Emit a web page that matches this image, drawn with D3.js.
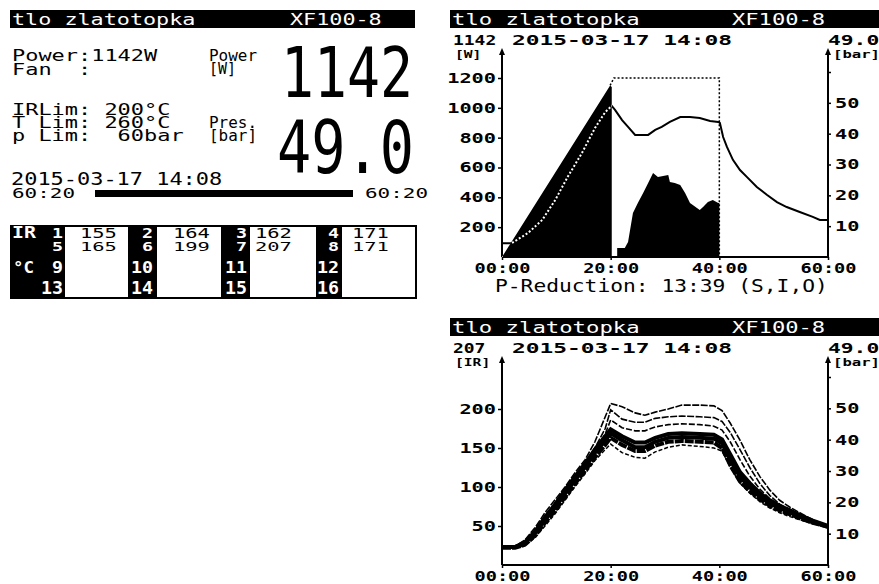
<!DOCTYPE html>
<html>
<head>
<meta charset="utf-8">
<script src="https://cdn.jsdelivr.net/npm/d3@7"></script>
<style>
  body { margin: 0; background: #fff; }
  svg { display: block; }
  text { font-family: "DejaVu Sans Mono", monospace; white-space: pre; }
</style>
</head>
<body>
<div id="chart"></div>
<script>
// Device / status values
const deviceName = "tlo zlatotopka";
const deviceModel = "XF100-8";
const timestamp = "2015-03-17 14:08";
const powerNow = 1142;
const pressureNow = 49.0;
const irMaxNow = 207;
const fanText = "Fan  :";
const limitTexts = ["IRLim: 200°C", "T Lim: 260°C", "p Lim:  60bar"];
const elapsedSec = 3620;
const totalSec = 3620;
const reductionText = "P-Reduction: 13:39 (S,I,O)";

// IR sensor table
const irChannels = ["1", "2", "3", "4", "5", "6", "7", "8", "9", "10", "11", "12", "13", "14", "15", "16"];
const irValues = [155, 164, 162, 171, 165, 199, 207, 171, null, null, null, null, null, null, null, null];

// Tick values
const timeTicks = [0, 20, 40, 60];
const powerTicks = [200, 400, 600, 800, 1000, 1200];
const barTicks = [10, 20, 30, 40, 50, 60];
const irTicks = [50, 100, 150, 200];

// Power chart series (minutes, W / bar)
const powerTime = [0, 19.9, 20.2, 20.2, 21.2, 21.2, 22.6, 23.2, 24.1, 25.0, 26.0, 26.9, 27.8, 28.7, 30.6, 30.9, 31.8, 32.8, 33.7, 34.6, 36.4, 37.0, 37.9, 38.8, 39.8, 40, 40];
const powerWatt = [0, 1150, 1140, 0, 0, 60, 60, 100, 295, 362, 430, 496, 563, 536, 550, 503, 496, 483, 429, 362, 315, 335, 369, 382, 362, 362, 0];
const limitTime = [19.9, 20.6, 40, 40];
const limitWatt = [1150, 1200, 1200, 0];
const pressTime = [0, 0, 1.8, 4.8, 7.4, 9.8, 12.1, 14.7, 17.1, 19.0, 20.2, 20.8, 22.1, 23.2, 24.5, 26.9, 28.2, 29.4, 30.9, 32.8, 34.6, 36.4, 38.3, 39.8, 40.1, 40.7, 41.4, 42.5, 43.8, 45.1, 46.9, 48.8, 50.6, 52.4, 54.8, 57.2, 58.5, 60];
const pressBar = [0, 4.5, 4.5, 7.8, 12.0, 18.5, 26.0, 33.7, 41.8, 47.0, 49.0, 47.7, 44.4, 42.2, 39.6, 39.6, 41.2, 42.2, 43.8, 45.4, 45.4, 45.1, 44.1, 43.8, 43.5, 38.9, 35.7, 31.5, 28.2, 25.9, 22.7, 20.1, 17.8, 16.2, 14.6, 13.0, 12.0, 12.0];

// IR chart series (minutes, °C)
const irTime = [0, 2.4, 4.2, 6.1, 7.9, 9.8, 11.6, 13.4, 15.3, 17.1, 19.0, 20.0, 22.1, 24.5, 26.3, 28.2, 30.6, 33.1, 36.4, 39.0, 40.5, 42.0, 43.8, 45.6, 47.5, 49.3, 51.1, 53.0, 54.8, 57.2, 60];
const irTop = [23, 24, 32, 48, 67, 84, 100, 118, 135, 158, 190, 207, 203, 195, 192, 196, 200, 205, 205, 204, 198, 182, 160, 135, 113, 96, 83, 74, 67, 58, 50];
const irSix = [23, 24, 30, 45, 63, 80, 97, 114, 131, 150, 175, 199, 187, 183, 183, 188, 190, 191, 190, 189, 184, 170, 148, 125, 104, 89, 78, 71, 64, 57, 50];
const irThird = [23, 23, 29, 43, 60, 77, 95, 112, 129, 148, 168, 186, 176, 172, 172, 177, 180, 181, 180, 178, 173, 158, 135, 114, 97, 85, 76, 69, 63, 56, 50];
const irUpper = [23, 23, 29, 43, 61, 78, 96, 113, 130, 148, 165, 174, 165, 157, 157, 163, 168, 169, 168, 167, 161, 142, 119, 105, 92, 83, 76, 70, 64, 57, 50];
const irMid = [23, 23, 28, 41, 58, 74, 92, 109, 126, 144, 160, 169, 160, 151, 151, 158, 163, 164, 163, 162, 156, 135, 113, 100, 87, 79, 73, 67, 62, 55, 49];
const irLower = [22, 22, 26, 38, 54, 70, 87, 104, 121, 138, 154, 163, 154, 146, 146, 153, 158, 159, 158, 157, 150, 128, 107, 95, 84, 76, 70, 65, 60, 54, 49];
const irLow = [22, 22, 25, 35, 50, 66, 83, 100, 117, 134, 148, 155, 144, 138, 137, 145, 151, 154, 152, 150, 146, 126, 105, 92, 81, 73, 67, 62, 58, 53, 49];

const svg = d3.select("#chart").append("svg").attr("width", 879).attr("height", 584);

// LCD-ish text: fixed advance per character
function lcd(g, x, y, str, size, adv, o = {}) {
  return g.append("text")
    .attr("x", x).attr("y", y)
    .attr("xml:space", "preserve")
    .attr("font-size", size)
    .attr("font-weight", o.bold ? "bold" : null)
    .attr("text-anchor", o.anchor || "start")
    .attr("fill", o.fill || "#000")
    .attr("textLength", str.length * adv)
    .attr("lengthAdjust", "spacingAndGlyphs")
    .text(str);
}

const fmtTime = (s) => d3.format("02")(Math.floor(s / 60)) + ":" + d3.format("02")(s % 60);

// ---------- Left status panel ----------
const left = svg.append("g");
left.append("rect").attr("x", 10).attr("y", 10).attr("width", 405).attr("height", 18).attr("fill", "#000");
lcd(left, 12, 25, deviceName, 16, 13.1, { fill: "#fff" });
lcd(left, 290, 25, deviceModel, 16, 13.1, { fill: "#fff" });

lcd(left, 12, 61, `Power:${powerNow}W`, 16, 13.2);
lcd(left, 12, 75, fanText, 16, 13.2);
limitTexts.forEach((t, i) => lcd(left, 12, 115 + i * 13, t, 16, 13.2));

lcd(left, 209, 61, "Power", 15, 9.6);
lcd(left, 209, 74, "[W]", 15, 9.0);
lcd(left, 209, 128, "Pres.", 15, 9.6);
lcd(left, 209, 141, "[bar]", 15, 9.6);

left.append("text").attr("x", 281).attr("y", 97)
  .attr("font-family", "Liberation Sans").attr("font-size", 69)
  .attr("textLength", 132).attr("lengthAdjust", "spacingAndGlyphs")
  .text(String(powerNow));
left.append("text").attr("x", 277).attr("y", 173)
  .attr("font-family", "Liberation Sans").attr("font-size", 73)
  .attr("textLength", 137).attr("lengthAdjust", "spacingAndGlyphs")
  .text(d3.format(".1f")(pressureNow));

lcd(left, 11, 185, timestamp, 17, 13.2);
lcd(left, 12, 198, fmtTime(elapsedSec), 14, 12.6);
lcd(left, 365, 198, fmtTime(totalSec), 14, 12.6);

// progress bar
const progress = d3.scaleLinear().domain([0, totalSec]).range([95, 353]);
left.append("rect").attr("x", progress(0)).attr("y", 190)
  .attr("width", progress(elapsedSec) - progress(0)).attr("height", 7).attr("fill", "#000");

// IR table
const cols = [
  { lab: 63, val: 80, cx: 65, cw: 63 },
  { lab: 153, val: 173, cx: 157, cw: 64 },
  { lab: 247, val: 255, cx: 250, cw: 66 },
  { lab: 339, val: 352, cx: 342, cw: 73 },
];
const rowY = [238, 251, 273, 294];
const rowSize = [14, 13, 16, 17];
left.append("rect").attr("x", 10).attr("y", 225).attr("width", 407).attr("height", 74).attr("fill", "#000");
cols.forEach((c) => {
  left.append("rect").attr("x", c.cx).attr("y", 227).attr("width", c.cw).attr("height", 70).attr("fill", "#fff");
});
lcd(left, 12, rowY[0], "IR", 15, 12, { fill: "#fff", bold: true });
lcd(left, 13, rowY[2], "°C", 16, 10.5, { fill: "#fff", bold: true });
irChannels.forEach((ch, i) => {
  const c = cols[i % 4], r = Math.floor(i / 4);
  lcd(left, c.lab, rowY[r], ch, rowSize[r], 11, { fill: "#fff", anchor: "end", bold: true });
  if (irValues[i] != null) {
    lcd(left, c.val, rowY[r], String(irValues[i]), rowSize[r], 12.3);
  }
});

// ---------- Chart frames ----------
const x = d3.scaleLinear().domain([0, 60]).range([502, 828]);

function styleAxisText(g, size, adv) {
  g.attr("font-family", null).attr("font-size", null).attr("color", "#000");
  g.select(".domain").remove();
  g.selectAll(".tick line").attr("stroke-width", 1.5);
  g.selectAll(".tick text")
    .attr("font-size", size).attr("font-weight", "bold")
    .each(function () {
      const s = this.textContent;
      d3.select(this).attr("textLength", s.length * adv).attr("lengthAdjust", "spacingAndGlyphs");
    });
}

function frame(oy, topLeft, unitLeft, yLeft, leftTicks, yRight) {
  const base = oy + 247;
  const g = svg.append("g");
  g.append("rect").attr("x", 450).attr("y", oy).attr("width", 429).attr("height", 18).attr("fill", "#000");
  lcd(g, 452, oy + 15, deviceName, 16, 13.4, { fill: "#fff" });
  lcd(g, 732, oy + 15, deviceModel, 16, 13.3, { fill: "#fff" });

  lcd(g, 453, oy + 35, topLeft, 14, 10.8, { bold: true });
  lcd(g, 455, oy + 48, unitLeft, 11, 8.8, { bold: true });
  lcd(g, 512, oy + 35, timestamp, 14, 13.75, { bold: true });
  lcd(g, 828, oy + 35, d3.format(".1f")(pressureNow), 14, 12.8, { bold: true });
  lcd(g, 833, oy + 48, "[bar]", 11, 9.4, { bold: true });

  // Axes
  const xg = g.append("g").attr("transform", `translate(0,${base})`)
    .call(d3.axisBottom(x).tickValues(timeTicks).tickSize(3).tickPadding(3)
      .tickFormat((d) => d3.format("02")(d) + ":00"));
  styleAxisText(xg, 14, 11.2);

  const lg = g.append("g").attr("transform", "translate(502,0)")
    .call(d3.axisLeft(yLeft).tickValues(leftTicks).tickSize(4).tickPadding(2).tickFormat(d3.format("d")));
  styleAxisText(lg, 14, 12.2);

  const rg = g.append("g").attr("transform", "translate(828,0)")
    .call(d3.axisRight(yRight).tickValues(barTicks).tickSize(3).tickPadding(4)
      .tickFormat((d) => (d === 60 ? "" : d)));
  styleAxisText(rg, 14, 12.2);

  // axis lines with arrows
  [502, 828].forEach((ax) => {
    g.append("line").attr("x1", ax).attr("x2", ax).attr("y1", base).attr("y2", oy + 41)
      .attr("stroke", "#000").attr("stroke-width", 2);
    g.append("path").attr("d", `M${ax},${oy + 38}L${ax - 3},${oy + 45}L${ax + 3},${oy + 45}Z`).attr("fill", "#000");
  });
  g.append("line").attr("x1", 502).attr("x2", 828).attr("y1", base).attr("y2", base)
    .attr("stroke", "#000").attr("stroke-width", 2);
  return g;
}

// ---------- Power / pressure chart ----------
const yPower = d3.scaleLinear().domain([0, 1200]).range([257, 78]);
const yBar1 = d3.scaleLinear().domain([0, 60]).range([257, 72]);
const g1 = frame(10, String(powerNow), "[W]", yPower, powerTicks, yBar1);

lcd(g1, 495, 292, reductionText, 17, 12.8);

const powerData = powerTime.map((t, i) => ({ t, w: powerWatt[i] }));
const pressData = pressTime.map((t, i) => ({ t, p: pressBar[i] }));
const limitData = limitTime.map((t, i) => ({ t, w: limitWatt[i] }));

const pressLine = d3.line().x((d) => x(d.t)).y((d) => yBar1(d.p));
const powerArea = d3.area().x((d) => x(d.t)).y0(yPower(0)).y1((d) => yPower(d.w));

// pressure line (black), then power area on top, then white dotted pressure inside area
g1.append("path").attr("d", pressLine(pressData))
  .attr("fill", "none").attr("stroke", "#000").attr("stroke-width", 2);
g1.append("path").attr("d", powerArea(powerData)).attr("fill", "#000");

svg.append("clipPath").attr("id", "powerClip")
  .append("path").attr("d", powerArea(powerData));
g1.append("path").attr("d", pressLine(pressData))
  .attr("clip-path", "url(#powerClip)")
  .attr("fill", "none").attr("stroke", "#fff").attr("stroke-width", 2).attr("stroke-dasharray", "2,2");

g1.append("path")
  .attr("d", d3.line().x((d) => x(d.t)).y((d) => yPower(d.w))(limitData))
  .attr("fill", "none").attr("stroke", "#000").attr("stroke-width", 1.5).attr("stroke-dasharray", "2,2");

// ---------- IR temperature chart ----------
const yIR = d3.scaleLinear().domain([0, 200]).range([565, 409]);
const yBar2 = d3.scaleLinear().domain([0, 60]).range([565, 377]);
const g2 = frame(318, String(irMaxNow), "[IR]", yIR, irTicks, yBar2);

const irLine = d3.line().x((d) => x(d.t)).y((d) => yIR(d.v));
const irSeries = [
  { v: irLow, w: 1.5, dash: "4,2" },
  { v: irTop, w: 1.6, dash: "7,1.5" },
  { v: irSix, w: 1.6, dash: "7,1.5" },
  { v: irThird, w: 1.6, dash: "6,2" },
  { v: irUpper, w: 4, dash: null },
  { v: irMid, w: 4, dash: null },
  { v: irLower, w: 4, dash: "9,1" },
];
g2.append("g").selectAll("path")
  .data(irSeries)
  .join("path")
  .attr("d", (s) => irLine(irTime.map((t, i) => ({ t, v: s.v[i] }))))
  .attr("fill", "none")
  .attr("stroke", "#000")
  .attr("stroke-width", (s) => s.w)
  .attr("stroke-dasharray", (s) => s.dash);
</script>
</body>
</html>
